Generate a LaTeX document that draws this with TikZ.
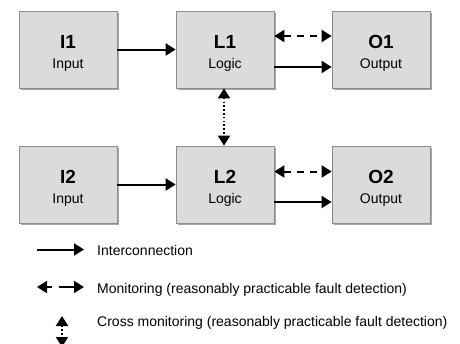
\documentclass[tikz,border=0pt]{standalone}
\usepackage{fontspec}
\setmainfont{Liberation Sans}
\usetikzlibrary{arrows.meta,shadows}
\begin{document}
\begin{tikzpicture}[x=1pt,y=-1pt,
  blk/.style={rectangle, draw=black!45, line width=0.7pt, fill=black!14,
    minimum width=98pt, minimum height=77pt, inner sep=0pt,
    drop shadow={shadow xshift=2pt, shadow yshift=-2pt, fill=black!35, opacity=1}},
  ttl/.style={anchor=base, font=\fontsize{19}{21}\selectfont\bfseries, inner sep=0pt},
  sub/.style={anchor=base, font=\fontsize{14}{16}\selectfont, inner sep=0pt},
  lgd/.style={anchor=base west, font=\fontsize{14}{16}\selectfont, inner sep=0pt},
  conn/.style={line width=2pt, -{Triangle[length=10pt,width=12pt]}},
  mon/.style={line width=2pt, {Triangle[length=10pt,width=12pt]}-{Triangle[length=10pt,width=12pt]}, dash pattern=on 7pt off 6pt},
  cross/.style={line width=2pt, {Triangle[length=10pt,width=12pt]}-{Triangle[length=10pt,width=12pt]}, dash pattern=on 1.6pt off 2.2pt}
]
\useasboundingbox (0,0) rectangle (460,343);
% boxes
\node[blk] (I1) at (68,49.5) {};
\node[blk] (L1) at (225,49.5) {};
\node[blk] (O1) at (381,49.5) {};
\node[blk] (I2) at (68,184.5) {};
\node[blk] (L2) at (225,184.5) {};
\node[blk] (O2) at (381,184.5) {};
% texts
\foreach \b/\t/\s in {I1/I1/Input, L1/L1/Logic, O1/O1/Output, I2/I2/Input, L2/L2/Logic, O2/O2/Output}{
  \node[ttl] (\b t) at ([yshift=1.2pt]\b.center) {\t};
  \node[sub] (\b s) at ([yshift=-18.8pt]\b.center) {\s};
}
% connectors
\draw[conn] (I1.east) -- (L1.west);
\draw[conn] (I2.east) -- (L2.west);
\draw[conn] ([yshift=-17.5pt]L1.east) -- ([yshift=-17.5pt]O1.west);
\draw[conn] ([yshift=-17.5pt]L2.east) -- ([yshift=-17.5pt]O2.west);
\draw[mon] ([yshift=13.5pt]L1.east) -- ([yshift=13.5pt]O1.west);
\draw[mon] ([yshift=13pt]L2.east) -- ([yshift=13pt]O2.west);
\draw[cross] ([xshift=-1pt]L1.south) -- ([xshift=-1pt]L2.north);
% legend
\coordinate (a1) at (37,249.5);
\coordinate (a2) at (84,249.5);
\coordinate (b1) at (37,287);
\coordinate (b2) at (84,287);
\coordinate (c1) at (62,316);
\coordinate (c2) at (62,347);
\draw[conn] (a1) -- (a2);
\draw[mon, dash pattern=on 5pt off 7pt on 40pt off 1pt] (b1) -- (b2);
\draw[cross] (c1) -- (c2);
\node[lgd] (t1) at (97,255) {Interconnection};
\node[lgd] (t2) at (97,293) {Monitoring (reasonably practicable fault detection)};
\node[lgd] (t3) at (97,326.7) {Cross monitoring (reasonably practicable fault detection)};
\end{tikzpicture}
\end{document}
